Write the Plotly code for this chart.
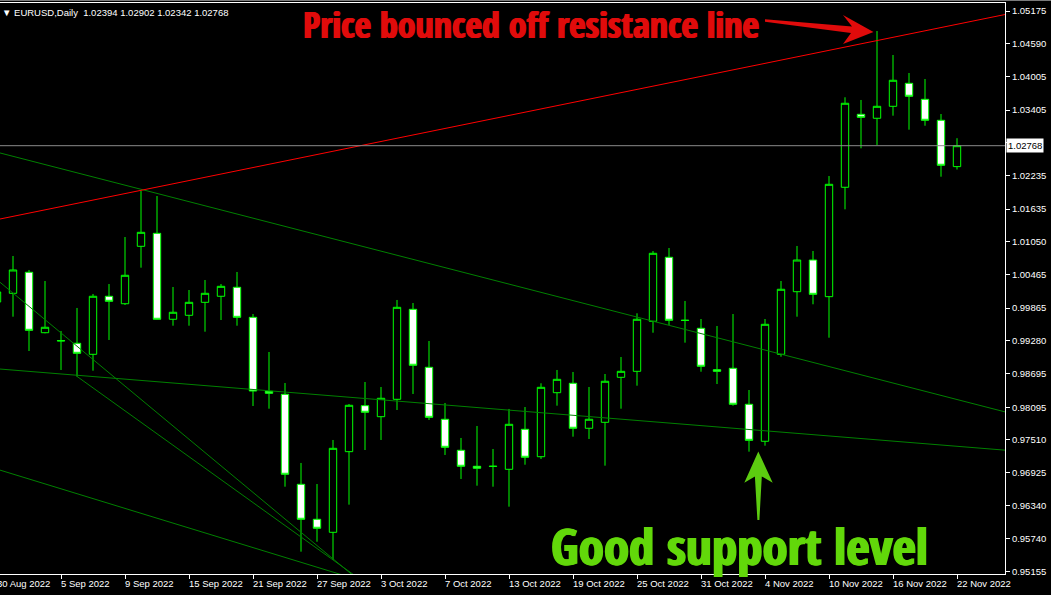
import plotly.graph_objects as go

# ---------------- data ----------------
dates = ["30 Aug", "31 Aug", "1 Sep", "2 Sep", "5 Sep", "6 Sep", "7 Sep", "8 Sep", "9 Sep",
         "12 Sep", "13 Sep", "14 Sep", "15 Sep", "16 Sep", "19 Sep", "20 Sep", "21 Sep", "22 Sep",
         "23 Sep", "26 Sep", "27 Sep", "28 Sep", "29 Sep", "30 Sep", "3 Oct", "4 Oct", "5 Oct",
         "6 Oct", "7 Oct", "10 Oct", "11 Oct", "12 Oct", "13 Oct", "14 Oct", "17 Oct", "18 Oct",
         "19 Oct", "20 Oct", "21 Oct", "24 Oct", "25 Oct", "26 Oct", "27 Oct", "28 Oct", "31 Oct",
         "1 Nov", "2 Nov", "3 Nov", "4 Nov", "7 Nov", "8 Nov", "9 Nov", "10 Nov", "11 Nov",
         "14 Nov", "15 Nov", "16 Nov", "17 Nov", "18 Nov", "21 Nov", "22 Nov"]

opens = [0.99975, 1.00130, 1.00506, 0.99426, 0.99285, 0.99237, 0.99040, 1.00077, 0.99944,
         1.00970, 1.01202, 0.99666, 0.99737, 0.99969, 1.00077, 1.00238, 0.99701, 0.98379,
         0.98325, 0.96717, 0.96092, 0.95859, 0.97300, 0.98122, 0.97925, 0.98236, 0.99844,
         0.98808, 0.97879, 0.97325, 0.97039, 0.97035, 0.96985, 0.97700, 0.97210, 0.98354,
         0.98522, 0.97718, 0.97825, 0.98629, 0.98736, 0.99630, 1.00774, 0.99650, 0.99505,
         0.98765, 0.98790, 0.98147, 0.97486, 0.99040, 1.00159, 1.00725, 1.00070, 1.02025,
         1.03329, 1.03258, 1.03472, 1.03883, 1.03597, 1.03222, 1.02394]
highs = [1.00300, 1.00797, 1.00547, 1.00350, 0.99457, 0.99868, 1.00118, 1.00296, 1.01136,
         1.01964, 1.01869, 1.00243, 1.00189, 1.00368, 1.00296, 1.00511, 0.99760, 0.99081,
         0.98527, 0.97098, 0.96722, 0.97509, 0.98152, 0.98545, 0.98456, 1.00011, 0.99957,
         0.99278, 0.98170, 0.97545, 0.97759, 0.97348, 0.98063, 0.98098, 0.98522, 0.98760,
         0.98724, 0.98456, 0.98688, 0.98992, 0.99773, 1.00886, 1.00940, 0.99993, 0.99671,
         0.99546, 0.99760, 0.98402, 0.99671, 1.00350, 1.00976, 1.00886, 1.02226, 1.03633,
         1.03585, 1.04818, 1.04389, 1.04067, 1.03960, 1.03334, 1.02902]
lows = [0.99850, 0.99712, 0.99099, 0.99415, 0.98760, 0.98640, 0.98747, 0.99296, 0.99921,
        1.00588, 0.99660, 0.99551, 0.99551, 0.99444, 0.99653, 0.99551, 0.98116, 0.98068,
        0.96674, 0.95513, 0.95691, 0.95364, 0.96353, 0.97330, 0.97509, 0.98045, 0.98331,
        0.97866, 0.97241, 0.96812, 0.96692, 0.96674, 0.96317, 0.97067, 0.97169, 0.98122,
        0.97568, 0.97527, 0.97050, 0.98068, 0.98479, 0.99426, 0.99564, 0.99248, 0.98729,
        0.98509, 0.98122, 0.97300, 0.97407, 0.98997, 0.99712, 0.99934, 0.99337, 1.01631,
        1.02721, 1.02780, 1.03304, 1.03054, 1.03125, 1.02214, 1.02342]
closes = [1.00154, 1.00547, 0.99469, 0.99523, 0.99280, 0.99058, 1.00077, 0.99987, 1.00452,
          1.01220, 0.99666, 0.99791, 0.99969, 1.00130, 1.00255, 0.99701, 0.98384, 0.98343,
          0.96896, 0.96092, 0.95931, 0.97360, 0.98129, 0.98004, 0.98254, 0.99880, 0.98844,
          0.97914, 0.97378, 0.97039, 0.97003, 0.97040, 0.97789, 0.97200, 0.98450, 0.98593,
          0.97718, 0.97879, 0.98558, 0.98736, 0.99666, 1.00845, 0.99648, 0.99645, 0.98826,
          0.98736, 0.98147, 0.97503, 0.99576, 1.00202, 1.00725, 1.00112, 1.02078, 1.03526,
          1.03275, 1.03472, 1.03937, 1.03651, 1.03222, 1.02418, 1.02768]

# x-axis tick labels (every 4th bar)
tick_idx = [0, 4, 8, 12, 16, 20, 24, 28, 32, 36, 40, 44, 48, 52, 56, 60]
tick_labels = ["30 Aug 2022", "5 Sep 2022", "9 Sep 2022", "15 Sep 2022", "21 Sep 2022",
               "27 Sep 2022", "3 Oct 2022", "7 Oct 2022", "13 Oct 2022", "19 Oct 2022",
               "25 Oct 2022", "31 Oct 2022", "4 Nov 2022", "10 Nov 2022", "16 Nov 2022",
               "22 Nov 2022"]

# price-axis ticks (the 1.02820 label sits behind the current-price tag)
price_ticks = [1.05175, 1.04590, 1.04005, 1.03405, 1.02820, 1.02235, 1.01635, 1.01050, 1.00465,
               0.99865, 0.99280, 0.98695, 0.98095, 0.97510, 0.96925, 0.96340, 0.95740, 0.95155]
price_tick_text = ["" if abs(v - 1.02820) < 1e-9 else "%.5f" % v for v in price_ticks]

# trend lines: (bar index, price) pairs
resistance_x = [0, 63]
resistance_y = [1.01447, 1.05112]
support_lines = [
    ([0, 63], [1.02652, 0.98011]),
    ([0, 63], [0.98781, 0.97327]),
    ([0, 30], [0.96987, 0.94360]),
    ([0, 25], [1.00372, 0.94435]),
    ([5, 25], [0.98645, 0.94546]),
]

symbol = "EURUSD,Daily"
title_red = "Price bounced off resistance line"
title_green = "Good support level"

# ---------------- layout geometry ----------------
W, H = 1051, 595
PL, PR, PT, PB = 0, 1005, 3, 574
X_RANGE = [0.1875, 63.0]
Y_RANGE = [0.95114, 1.05318]


def paper(px, py):
    return px / (PR - PL), (PB - py) / (PB - PT)


def xpaper(i):
    return (i - X_RANGE[0]) / (X_RANGE[1] - X_RANGE[0])


fig = go.Figure()

fig.add_trace(go.Candlestick(
    x=list(range(len(opens))), open=opens, high=highs, low=lows, close=closes,
    increasing=dict(fillcolor="#000000", line=dict(color="#00ff00", width=1)),
    decreasing=dict(fillcolor="#ffffff", line=dict(color="#00ff00", width=1)),
    whiskerwidth=0, showlegend=False, hoverinfo="skip"))

for xs, ys in support_lines:
    fig.add_trace(go.Scatter(x=xs, y=ys, mode="lines",
                             line=dict(color="#008000", width=1), showlegend=False,
                             hoverinfo="skip"))
fig.add_trace(go.Scatter(x=resistance_x, y=resistance_y, mode="lines",
                         line=dict(color="#ff0000", width=1), showlegend=False,
                         hoverinfo="skip"))
fig.add_trace(go.Scatter(x=X_RANGE, y=[closes[-1], closes[-1]], mode="lines",
                         line=dict(color="#8a8a8a", width=1), showlegend=False,
                         hoverinfo="skip"))

annotations = []
small_font = dict(family="Liberation Sans, Arial, sans-serif", size=9.5, color="#ffffff")
big_family = ("Noto Sans ExtraCondensed Black, Noto Sans ExtraCondensed, "
              "Noto Sans Condensed Black, Noto Sans Condensed, Open Sans Condensed, "
              "Liberation Sans Narrow, DejaVu Sans Condensed, sans-serif")
RED = "#e00b0b"
GREEN = "#62d80a"

hx, hy = paper(1, 12)
annotations.append(dict(
    xref="paper", yref="paper", x=hx, y=hy, xanchor="left", yanchor="middle",
    text="\u25bc " + symbol + "\u00a0\u00a0" + " ".join("%.5f" % v for v in
                                                    (opens[-1], highs[-1], lows[-1], closes[-1])),
    showarrow=False, font=small_font, borderpad=0))

annotations.append(dict(
    xref="paper", yref="y", x=paper(1006, 0)[0], y=closes[-1], xanchor="left", yanchor="middle",
    text="%.5f" % closes[-1], showarrow=False, bgcolor="#ffffff",
    font=dict(family="Liberation Sans, Arial, sans-serif", size=9.5, color="#000000"),
    borderpad=1))

for i, lab in zip(tick_idx, tick_labels):
    annotations.append(dict(
        xref="paper", yref="paper", x=xpaper(i), y=paper(0, 583)[1], xanchor="left",
        yanchor="middle", xshift=-1, text=lab, showarrow=False, font=small_font, borderpad=0))

rx, ry = paper(530.5, 24.5)
annotations.append(dict(
    xref="paper", yref="paper", x=rx, y=ry, xanchor="center", yanchor="middle",
    text=title_red, showarrow=False,
    font=dict(family=big_family, size=36, weight=900, color=RED,
              shadow="0.8px 0 0 %s, -0.8px 0 0 %s" % (RED, RED))))
gx, gy = paper(739.5, 545)
annotations.append(dict(
    xref="paper", yref="paper", x=gx, y=gy, xanchor="center", yanchor="middle",
    text=title_green, showarrow=False,
    font=dict(family=big_family, size=51, weight=900, color=GREEN,
              shadow="1px 0 0 %s, -1px 0 0 %s" % (GREEN, GREEN))))


def poly(points):
    pts = [paper(px, py) for px, py in points]
    return "M " + " L ".join("%.5f,%.5f" % p for p in pts) + " Z"


shapes = []
shapes.append(dict(type="path", xref="paper", yref="paper",
                   path=poly([(765, 19.2), (852, 26.6), (843, 15), (873.5, 32),
                              (843, 44), (851, 33), (765, 21.8)]),
                   fillcolor=RED, line=dict(width=0)))
shapes.append(dict(type="path", xref="paper", yref="paper",
                   path=poly([(758.3, 451.5), (772.7, 482.7), (761.8, 476.5), (759.4, 520),
                              (757.4, 520), (754.9, 476.5), (744.3, 482.7)]),
                   fillcolor="#5ccc10", line=dict(width=0)))
shapes.append(dict(type="line", xref="paper", yref="paper",
                   x0=0, x1=paper(W, 0)[0], y0=paper(0, 0.5)[1], y1=paper(0, 0.5)[1],
                   line=dict(color="#7a7a7a", width=1)))

fig.update_layout(
    width=W, height=H,
    margin=dict(l=PL, r=W - PR, t=PT, b=H - PB, pad=0),
    paper_bgcolor="#000000", plot_bgcolor="#000000",
    showlegend=False, boxgap=0.34,
    annotations=annotations, shapes=shapes,
    xaxis=dict(range=X_RANGE, showgrid=False, zeroline=False, showline=True, mirror=True,
               linecolor="#ffffff", linewidth=1, ticks="outside", ticklen=4, tickcolor="#ffffff",
               tickvals=tick_idx, showticklabels=False, rangeslider=dict(visible=False),
               fixedrange=True),
    yaxis=dict(range=Y_RANGE, side="right", showgrid=False, zeroline=False, showline=True,
               linecolor="#ffffff", linewidth=1, ticks="outside", ticklen=4, tickcolor="#ffffff",
               tickvals=price_ticks, ticktext=price_tick_text, tickfont=small_font,
               fixedrange=True),
)

fig.write_html("out.html", config={"displayModeBar": False},
               post_script="document.body.style.margin='0px';")
